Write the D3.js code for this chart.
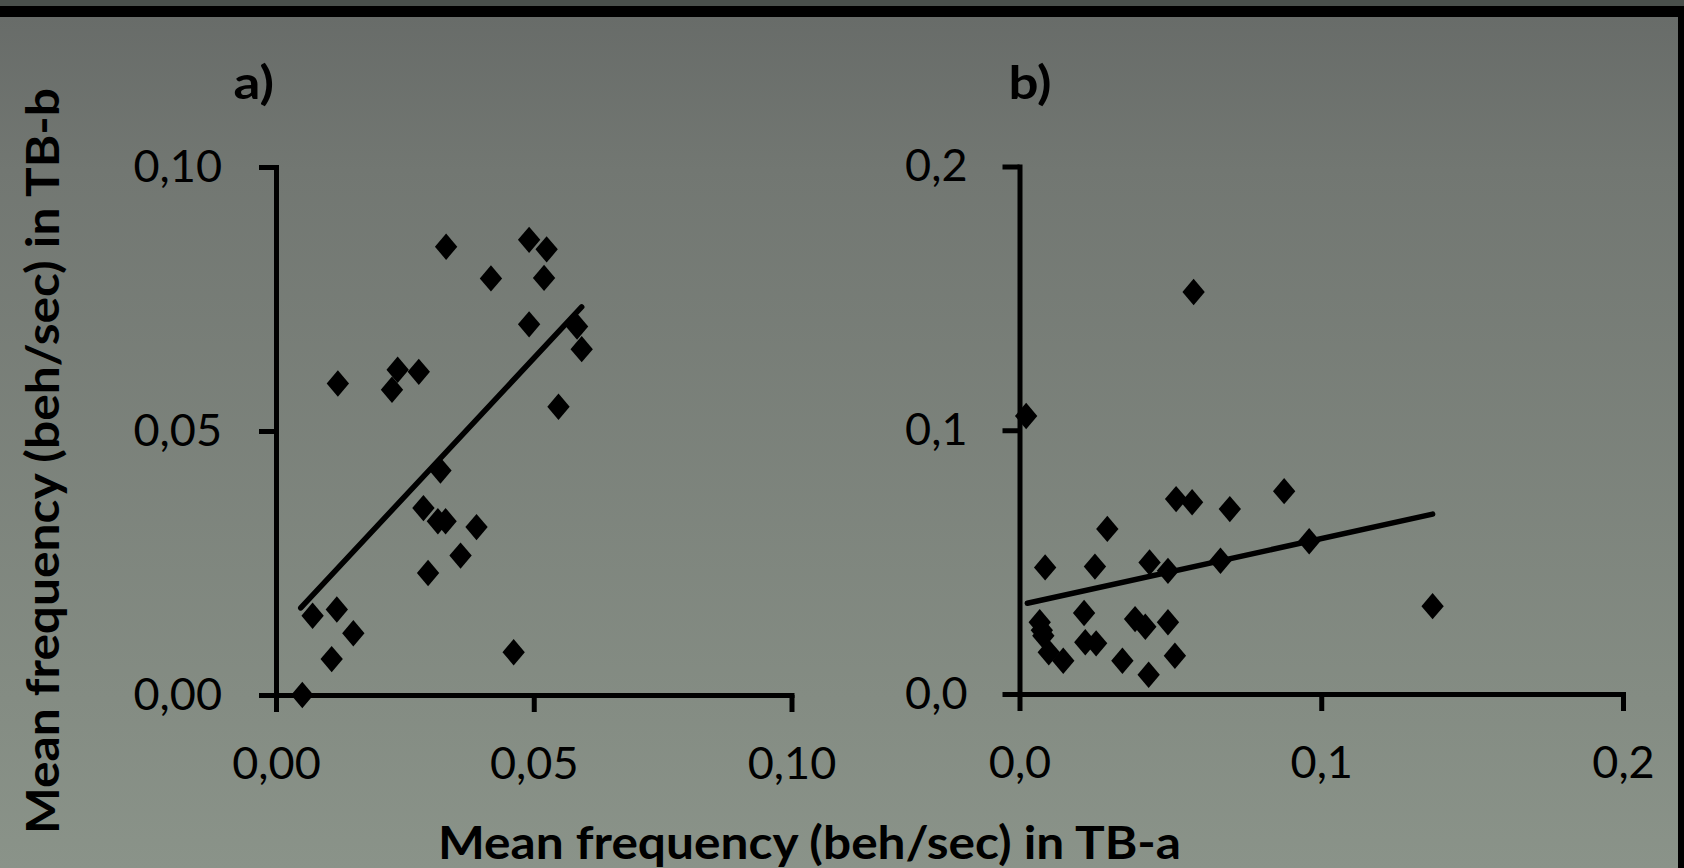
<!DOCTYPE html>
<html>
<head>
<meta charset="utf-8">
<script src="https://cdn.jsdelivr.net/npm/d3@7"></script>
<style>
html,body{margin:0;padding:0;background:#6e726e;}
svg{display:block;}
</style>
</head>
<body>
<svg id="chart" width="1684" height="868"></svg>
<script>
// ---------- data ----------
const ticksA = [0, 0.05, 0.10];
const ticksB = [0, 0.1, 0.2];

const pointsAX = [0.0330,0.0491,0.0525,0.0417,0.0520,0.0491,0.0584,0.0593,0.0548,0.0120,0.0236,0.0277,0.0225,0.0319,0.0286,0.0314,0.0329,0.0389,0.0358,0.0295,0.0071,0.0118,0.0150,0.0108,0.0461,0.0051];
const pointsAY = [0.0849,0.0862,0.0844,0.0789,0.0790,0.0702,0.0698,0.0655,0.0546,0.0590,0.0616,0.0612,0.0578,0.0425,0.0354,0.0329,0.0329,0.0318,0.0264,0.0231,0.0150,0.0162,0.0117,0.0068,0.0081,0.0000];

const pointsBX = [0.0577,0.0022,0.0519,0.0572,0.0697,0.0877,0.0291,0.0085,0.0250,0.0431,0.0492,0.0666,0.0960,0.1369,0.0214,0.0067,0.0074,0.0079,0.0097,0.0145,0.0218,0.0254,0.0383,0.0417,0.0492,0.0341,0.0515,0.0428];
const pointsBY = [0.1524,0.1054,0.0739,0.0727,0.0701,0.0769,0.0626,0.0480,0.0483,0.0499,0.0467,0.0505,0.0579,0.0333,0.0307,0.0272,0.0242,0.0221,0.0158,0.0126,0.0196,0.0192,0.0284,0.0255,0.0272,0.0126,0.0145,0.0073];

const trendAX = [0.0048, 0.0593];
const trendAY = [0.0165, 0.0735];
const trendBX = [0.0026, 0.1369];
const trendBY = [0.0344, 0.0682];

const panelLabels = ["a)", "b)"];
const xTitle = "Mean frequency (beh/sec) in TB-a";
const yTitle = "Mean frequency (beh/sec) in TB-b";

// ---------- setup ----------
const svg = d3.select("#chart");
const W = 1684, H = 868;
const FONT = "Lato, 'Open Sans', sans-serif";

const defs = svg.append("defs");
const grad = defs.append("linearGradient").attr("id","bg")
  .attr("x1",0).attr("y1",0).attr("x2",0).attr("y2",1);
grad.append("stop").attr("offset","0%").attr("stop-color","#686c69");
grad.append("stop").attr("offset","18%").attr("stop-color","#727772");
grad.append("stop").attr("offset","80%").attr("stop-color","#848c83");
grad.append("stop").attr("offset","100%").attr("stop-color","#8a9389");

svg.append("rect").attr("x",0).attr("y",17).attr("width",W).attr("height",H-17).attr("fill","url(#bg)");
svg.append("rect").attr("x",0).attr("y",0).attr("width",W).attr("height",6).attr("fill","#4a504c");
svg.append("rect").attr("x",0).attr("y",6).attr("width",W).attr("height",11).attr("fill","#000");
svg.append("rect").attr("x",1678).attr("y",6).attr("width",6).attr("height",H-6).attr("fill","#000");

const locale = d3.formatLocale({decimal: ",", thousands: ".", grouping: [3], currency: ["", ""]});
const fmtA = locale.format(".2f");
const fmtB = locale.format(".1f");

function panel(xs, ys, ticks, fmt, px, py, tx, ty, padY) {
  const g = svg.append("g");
  const ax = d3.axisBottom(xs).tickValues(ticks).tickFormat(fmt).tickSize(17).tickSizeOuter(0).tickPadding(35);
  const ay = d3.axisLeft(ys).tickValues(ticks).tickFormat(fmt).tickSize(17).tickSizeOuter(0).tickPadding(padY);
  const gx = g.append("g").attr("transform", `translate(0,${ys(0)})`).call(ax);
  const gy = g.append("g").attr("transform", `translate(${xs(0)},0)`).call(ay);
  [gx, gy].forEach(a => {
    a.select(".domain").attr("stroke","#000").attr("stroke-width",5).attr("stroke-linecap","square");
    a.selectAll(".tick line").attr("stroke","#000").attr("stroke-width",5);
    a.selectAll(".tick text").attr("fill","#000").style("font-family",FONT).style("font-size","45px");
  });
  const sym = d3.symbol().type(d3.symbolSquare).size(250);
  g.append("g").selectAll("path").data(px.map((v,i)=>[v, py[i]])).join("path")
    .attr("d", sym)
    .attr("transform", d => `translate(${xs(d[0])},${ys(d[1])}) scale(1,1.18) rotate(45)`)
    .attr("fill","#000");
  const line = d3.line().x(d=>xs(d[0])).y(d=>ys(d[1]));
  g.append("path").datum(tx.map((v,i)=>[v, ty[i]]))
    .attr("d", line).attr("fill","none").attr("stroke","#000").attr("stroke-width",5.5).attr("stroke-linecap","round");
  return g;
}

const xA = d3.scaleLinear().domain([0,0.10]).range([276,791.5]);
const yA = d3.scaleLinear().domain([0,0.10]).range([695,167]);
const xB = d3.scaleLinear().domain([0,0.2]).range([1019.5,1623]);
const yB = d3.scaleLinear().domain([0,0.2]).range([694,166.5]);

panel(xA, yA, ticksA, fmtA, pointsAX, pointsAY, trendAX, trendAY, 37);
panel(xB, yB, ticksB, fmtB, pointsBX, pointsBY, trendBX, trendBY, 35);

// panel labels
svg.append("text").attr("x",233.6).attr("y",99).text(panelLabels[0])
  .attr("font-family",FONT).attr("font-weight","bold").attr("font-size",46)
  .attr("textLength",40.5).attr("lengthAdjust","spacingAndGlyphs");
svg.append("text").attr("x",1008.5).attr("y",99).text(panelLabels[1])
  .attr("font-family",FONT).attr("font-weight","bold").attr("font-size",46)
  .attr("textLength",43).attr("lengthAdjust","spacingAndGlyphs");

// axis titles
svg.append("text").attr("x",438).attr("y",859).text(xTitle)
  .attr("font-family",FONT).attr("font-weight","bold").attr("font-size",46)
  .attr("textLength",743).attr("lengthAdjust","spacingAndGlyphs");
svg.append("text").attr("transform","translate(59,834) rotate(-90)").text(yTitle)
  .attr("font-family",FONT).attr("font-weight","bold").attr("font-size",46)
  .attr("textLength",746).attr("lengthAdjust","spacingAndGlyphs");
</script>
</body>
</html>
